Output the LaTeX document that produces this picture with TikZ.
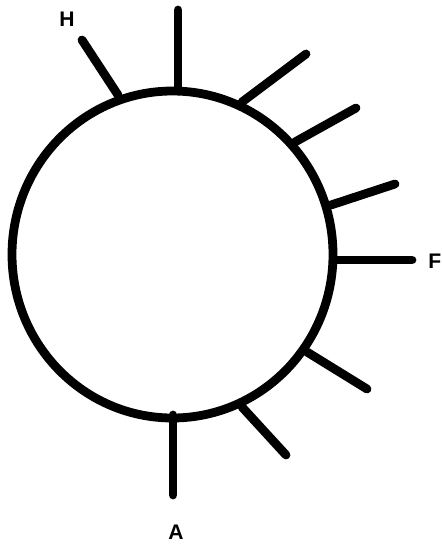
\documentclass[tikz,border=0pt]{standalone}
\usepackage{fontspec}
\setmainfont{Liberation Sans}
\usetikzlibrary{positioning}

\begin{document}
\begin{tikzpicture}[
    x=0.02cm, y=-0.02cm,
    rim/.style={draw=black, line width=5pt},
    spoke/.style={draw=black, line width=5pt, line cap=round},
    tag/.style={font=\bfseries\fontsize{12}{14}\selectfont, text=black, inner sep=0pt}
]
    \useasboundingbox (0,0) rectangle (441,544);

    % Ring
    \draw[rim] (172.5,254.5) ellipse [x radius=160.5, y radius=163.5];

    % Spokes
    \draw[spoke] (118,95)  -- (82,40);
    \draw[spoke] (178,91)  -- (178,10);
    \draw[spoke] (242,102) -- (306,54);
    \draw[spoke] (295,142) -- (356,108);
    \draw[spoke] (331,205) -- (395,184);
    \draw[spoke] (334,260) -- (412,260);
    \draw[spoke] (307,352) -- (367,389);
    \draw[spoke] (242,407) -- (286,455);
    \draw[spoke] (173,415) -- (173,495);

    % Labels
    \node[tag] (labelH) at (67,19) {H};
    \node[tag, anchor=west] (labelF) at (428,261) {F};
    \node[tag] (labelA) at (176,532) {A};
\end{tikzpicture}
\end{document}
